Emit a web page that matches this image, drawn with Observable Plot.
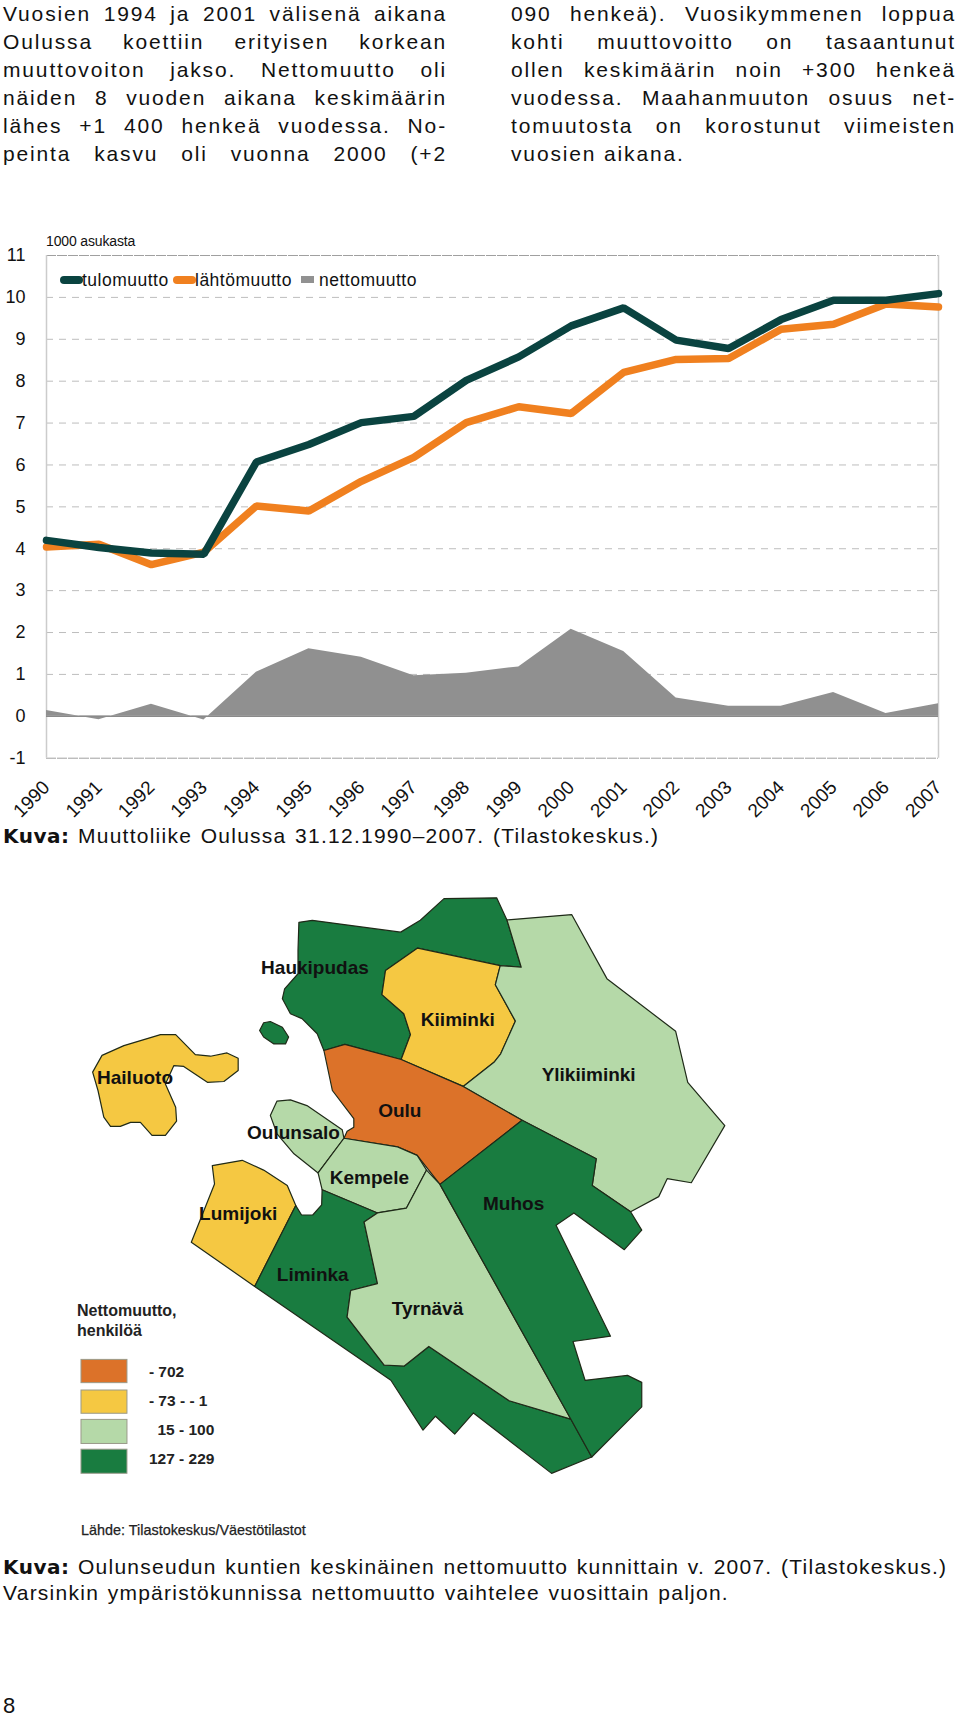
<!DOCTYPE html>
<html><head><meta charset="utf-8">
<script src="https://cdn.jsdelivr.net/npm/d3@7"></script>
<script src="https://cdn.jsdelivr.net/npm/@observablehq/plot@0.6"></script>
<style>
html,body{margin:0;padding:0;background:#fff}
body{width:960px;height:1716px;position:relative;overflow:hidden;font-family:"Liberation Sans",Arial,sans-serif;color:#111}
.t{position:absolute;white-space:pre;line-height:30px}
.j{white-space:normal;text-align:justify;text-align-last:justify}
.k{position:absolute}
svg{position:absolute;left:0;overflow:visible}
b{font-family:"DejaVu Sans";font-weight:700}
</style></head><body>
<div id="text"></div><div id="line"></div><div id="map"></div>
<script>
// ---- text ----
const leftColumn = ["Vuosien 1994 ja 2001 välisenä aikana","Oulussa koettiin erityisen korkean","muuttovoiton jakso. Nettomuutto oli","näiden 8 vuoden aikana keskimäärin","lähes +1 400 henkeä vuodessa. No-","peinta kasvu oli vuonna 2000 (+2"];
const rightColumn = ["090 henkeä). Vuosikymmenen loppua","kohti muuttovoitto on tasaantunut","ollen keskimäärin noin +300 henkeä","vuodessa. Maahanmuuton osuus net-","tomuutosta on korostunut viimeisten","vuosien aikana."];
const caption1 = "Muuttoliike Oulussa 31.12.1990–2007. (Tilastokeskus.)";
const caption2a = "Oulunseudun kuntien keskinäinen nettomuutto kunnittain v. 2007. (Tilastokeskus.)";
const caption2b = "Varsinkin ympäristökunnissa nettomuutto vaihtelee vuosittain paljon.";
// ---- line chart ----
const years = [1990,1991,1992,1993,1994,1995,1996,1997,1998,1999,2000,2001,2002,2003,2004,2005,2006,2007];
const tulomuutto = [4.20,4.03,3.90,3.87,6.07,6.49,7.01,7.16,8.02,8.58,9.32,9.75,8.98,8.78,9.47,9.93,9.93,10.09];
const lahtomuutto = [4.04,4.11,3.62,3.92,5.02,4.90,5.61,6.18,7.01,7.39,7.23,8.21,8.52,8.54,9.24,9.36,9.84,9.77];
const nettomuutto = [0.14,-0.08,0.29,-0.09,1.05,1.61,1.41,0.97,1.03,1.18,2.08,1.55,0.44,0.24,0.24,0.57,0.07,0.30];
const yTicks = [-1,0,1,2,3,4,5,6,7,8,9,10,11];
const dashedTicks = [1,2,3,4,5,6,7,8,9,10];
// ---- map (traced outlines, image units) ----
const classes = ["- 702","- 73 - - 1","15 - 100","127 - 229"];
const classColors = ["#DC7229","#F5C842","#B5D9A8","#197C40"];
const regions = [
 {name:"Haukipudas",cls:3,pts:[[534,78],[564,73],[762,102],[806,73],[859,20],[977,18],[1000,72],[1032,188],[985,184],[800,141],[728,196],[720,255],[769,302],[784,353],[763,414],[637,377],[590,392],[575,351],[541,314],[515,302],[497,265],[502,241],[532,204],[532,147]]},
 {name:"Saari",cls:3,pts:[[446,343],[455,324],[470,321],[497,335],[511,359],[504,376],[478,376],[455,359]]},
 {name:"Hailuoto",cls:1,pts:[[72,445],[93,404],[142,380],[224,353],[258,353],[302,402],[336,406],[373,398],[398,411],[398,441],[366,468],[329,470],[276,431],[254,429],[235,474],[258,531],[260,565],[235,600],[205,600],[179,568],[157,568],[134,578],[112,578],[97,555],[84,490]]},
 {name:"Kiiminki",cls:1,pts:[[800,141],[985,184],[974,231],[1019,320],[986,400],[971,421],[902,480],[763,414],[784,353],[769,302],[720,255],[728,196]]},
 {name:"Ylikiiminki",cls:2,pts:[[1000,72],[1145,59],[1224,216],[1378,345],[1405,470],[1488,576],[1413,716],[1359,706],[1340,750],[1277,787],[1191,723],[1200,657],[1034,563],[902,480],[971,421],[986,400],[1019,320],[974,231],[985,184],[1032,188]]},
 {name:"Oulu",cls:0,pts:[[637,377],[763,414],[902,480],[1034,563],[850,720],[799,649],[755,628],[635,607],[642,590],[657,580],[657,559],[609,490],[590,392]]},
 {name:"Oulunsalo",cls:2,pts:[[470,551],[485,516],[515,513],[552,527],[631,586],[635,607],[577,692],[523,645],[485,596]]},
 {name:"Kempele",cls:2,pts:[[635,607],[755,628],[799,649],[820,685],[775,778],[710,790],[586,733],[577,692]]},
 {name:"Lumijoki",cls:1,pts:[[340,674],[407,661],[455,685],[508,723],[527,772],[435,970],[293,862],[345,719]]},
 {name:"Liminka",cls:3,pts:[[586,733],[710,790],[680,812],[710,963],[650,980],[642,1045],[725,1163],[770,1165],[825,1117],[1005,1250],[1143,1295],[1190,1388],[1100,1428],[925,1280],[883,1332],[840,1288],[812,1322],[740,1200],[435,970],[527,772],[540,795],[565,795],[585,770]]},
 {name:"Tyrnävä",cls:2,pts:[[820,685],[775,778],[710,790],[680,812],[710,963],[650,980],[642,1045],[725,1163],[770,1165],[825,1117],[1005,1250],[1143,1295],[850,720]]},
 {name:"Muhos",cls:3,pts:[[1034,563],[1200,657],[1191,723],[1277,787],[1302,832],[1263,880],[1150,790],[1110,820],[1232,1092],[1148,1105],[1175,1200],[1270,1188],[1302,1205],[1302,1265],[1190,1388],[1143,1295],[850,720]]}
];
const placeNames = [["Haukipudas",570,190],["Kiiminki",890,318],["Ylikiiminki",1183,452],["Hailuoto",167,460],["Oulu",760,540],["Oulunsalo",522,595],["Kempele",692,703],["Lumijoki",398,792],["Muhos",1015,767],["Liminka",565,942],["Tyrnävä",822,1025]];
const legendRows = [[1150,1207,1180,198],[1225,1282,1250,198],[1297,1356,1322,217],[1370,1429,1392,198]];

// helpers
const holder = document.getElementById("text");
function text(str,x,base,fs,ls,opts={}){
  const d=document.createElement("div");d.className="t"+(opts.w?" j":"");
  d.style.cssText+=`left:${x}px;top:${base-15-0.3465*fs}px;font-size:${fs}px;letter-spacing:${ls}px;`+(opts.w?`width:${opts.w}px;`:"")+(opts.css||"");
  d.innerHTML=str;holder.appendChild(d);return d;
}
const BFS=21, BLS=1.85;
leftColumn.forEach((s,i)=>text(s,3,21+28*i,BFS,BLS,{w:444}));
rightColumn.forEach((s,i)=>text(s,511,21+28*i,BFS,BLS,i<5?{w:445}:{}));
const CFS=21, CLS=1.25, ws={css:"word-spacing:1.5px;"};
const kuva="<b style='font-size:20px;letter-spacing:.5px'>Kuva:</b> ";
text(kuva+caption1,3,843,CFS,CLS,ws);
text(kuva+caption2a,3,1574,CFS,CLS,ws);
text(caption2b,3,1600,CFS,CLS,ws);
text("8",3,1714,22,0);
text("1000 asukasta",46,246,14,-0.15);
// chart legend
function key(x,y,w,h,c,r){const d=document.createElement("div");d.className="k";d.style.cssText=`left:${x}px;top:${y}px;width:${w}px;height:${h}px;background:${c};border-radius:${r}px`;holder.appendChild(d);}
key(60,276,23,7.5,"#0a4340",4);key(173,276,23,7.5,"#f0801f",4);key(301,276,13,7,"#919191",0);
text("tulomuutto",82,286,17.5,0.5);text("lähtömuutto",195,286,17.5,0.5);text("nettomuutto",319,286,17.5,0.5);

// line chart
const rows = years.map((y,i)=>({y,t:tulomuutto[i],l:lahtomuutto[i],n:nettomuutto[i]}));
const chart = Plot.plot({
  width:960,height:630,marginLeft:46,marginRight:22,marginTop:55,marginBottom:72.3,
  style:{background:"transparent",fontFamily:"Liberation Sans, Arial, sans-serif",fontSize:"18px",color:"#111"},
  x:{domain:[1990,2007]},y:{domain:[-1,11]},
  marks:[
    Plot.ruleY(dashedTicks,{stroke:"#bdbdbd",strokeWidth:1,strokeDasharray:"7 6"}),
    Plot.ruleY([11,-1],{stroke:"#a0a0a0",strokeWidth:1,strokeDasharray:"10 1"}),
    Plot.ruleX([1990,2007],{stroke:"#ccc",strokeWidth:1.5}),
    Plot.areaY(rows,{x:"y",y1:()=>0,y2:"n",fill:"#909090",curve:"linear"}),
    Plot.ruleY([0],{stroke:"#8a8a8a",strokeWidth:1.4}),
    Plot.line(rows,{x:"y",y:"l",stroke:"#f0801f",strokeWidth:7.5,strokeLinejoin:"miter",strokeLinecap:"round"}),
    Plot.line(rows,{x:"y",y:"t",stroke:"#0a4340",strokeWidth:7.5,strokeLinejoin:"miter",strokeLinecap:"round"}),
    Plot.axisY(yTicks,{tickSize:0,tickPadding:21,tickFormat:d=>String(d),label:null,fontSize:18}),
    Plot.axisX(years,{tickSize:0,tickPadding:26,tickRotate:-45,tickFormat:d=>String(d),label:null,fontSize:19})
  ]
});
chart.style.top="200px";
document.getElementById("line").appendChild(chart);

// map
const ringRows = regions.flatMap(r=>r.pts.map(([u,v])=>({name:r.name,cls:classes[r.cls],u,v})));
const legendData = classes.map((c,i)=>({c,v1:legendRows[i][0],v2:legendRows[i][1],tv:legendRows[i][2],tu:legendRows[i][3]}));
const mapPlot = Plot.plot({
  width:960,height:650,margin:0,
  style:{background:"transparent",fontFamily:"Liberation Sans, Arial, sans-serif"},
  x:{domain:[0,1568],range:[60,760],axis:null},
  y:{domain:[0,1568],range:[0,640],axis:null},
  color:{domain:classes,range:classColors},
  marks:[
    Plot.line(ringRows,{x:"u",y:"v",z:"name",fill:"cls",stroke:"#1f2a18",strokeWidth:1.2,curve:"linear-closed",strokeLinejoin:"round"}),
    Plot.text(placeNames,{x:d=>d[1],y:d=>d[2],text:d=>d[0],fontSize:19,fontWeight:"bold",fill:"#111"}),
    Plot.text(["Nettomuutto,","henkilöä"],{x:()=>37,y:(d,i)=>[1030,1078][i],text:d=>d,textAnchor:"start",fontSize:16,fontWeight:"bold",fill:"#222"}),
    Plot.rect(legendData,{x1:()=>47,x2:()=>150,y1:"v1",y2:"v2",fill:"c",stroke:"#9a9a8a",strokeWidth:1}),
    Plot.text(legendData,{x:"tu",y:"tv",text:"c",textAnchor:"start",fontSize:15.5,fontWeight:"bold",fill:"#222"}),
    Plot.text(["Lähde: Tilastokeskus/Väestötilastot"],{x:()=>46,y:()=>1568,text:d=>d,textAnchor:"start",fontSize:14.4,fill:"#222",stroke:"#222",strokeWidth:0.25})
  ]
});
mapPlot.style.top="890px";
document.getElementById("map").appendChild(mapPlot);
</script></body></html>
